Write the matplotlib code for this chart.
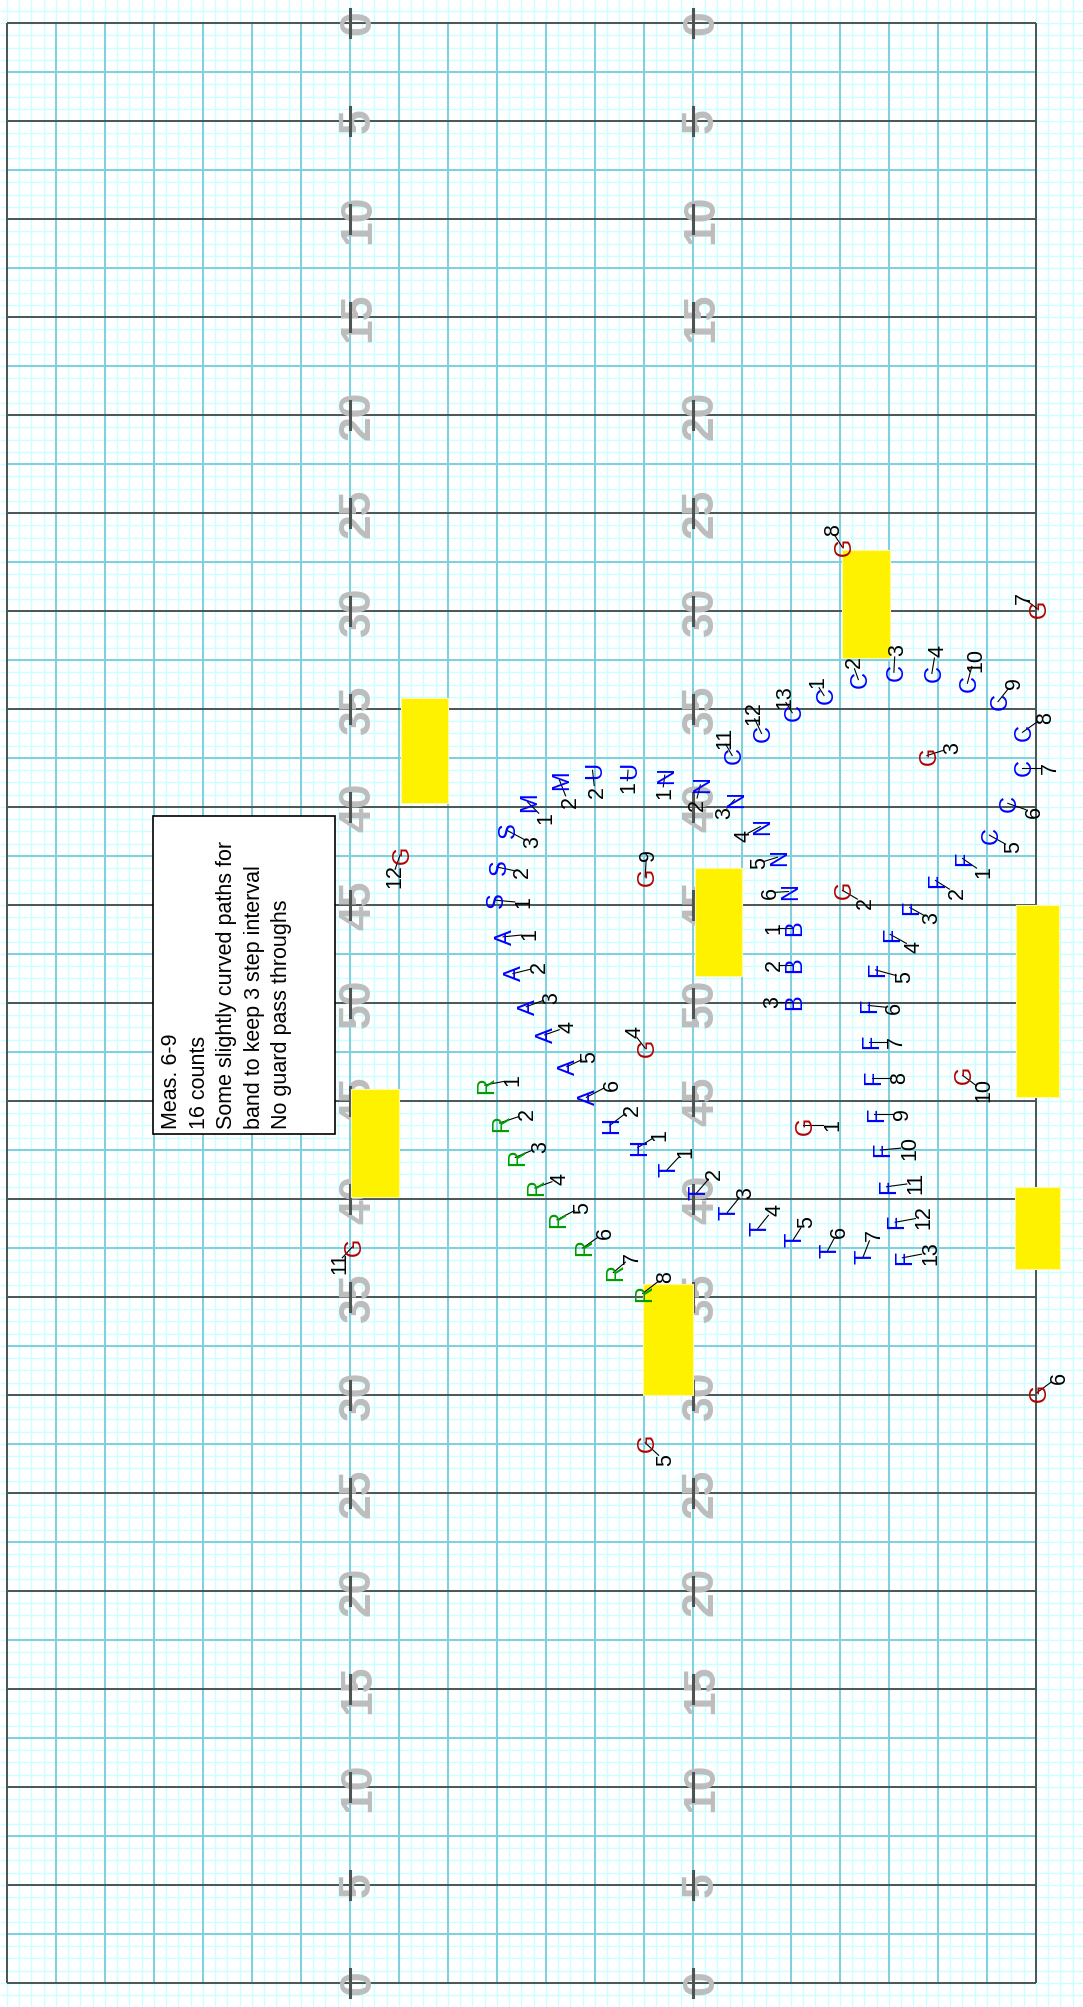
import numpy as np
import matplotlib.pyplot as plt
from matplotlib.patches import Rectangle

# field measured in 8-to-5 steps: 84 wide, 160 goal line to goal line
FIELD_W, FIELD_L = 84, 160
yard_labels = [0, 5, 10, 15, 20, 25, 30, 35, 40, 45, 50,
               45, 40, 35, 30, 25, 20, 15, 10, 5, 0]
hash_x = [28, 56]

# yellow props
prop_x = [68.2, 32.2, 28.1, 56.2, 51.9, 82.4, 82.3]
prop_y = [43.0, 55.1, 87.0, 69.0, 102.9, 72.0, 95.0]
prop_w = [3.9, 3.8, 3.9, 3.8, 4.1, 3.5, 3.7]
prop_h = [8.8, 8.6, 8.8, 8.8, 9.1, 15.7, 6.7]

# marchers: symbol, number, position, number tag position
symbol = list("SSSMMUUNNNNNNCCCCCCCCCCCCCBBBFFFFFFFFFFFFFAAAAAAHHTTTTTTTRRRRRRRRGGGGGGGGGGGG")
number = ([1, 2, 3] + [1, 2] + [1, 2] + list(range(1, 7)) + list(range(1, 14))
          + [1, 2, 3] + list(range(1, 14)) + list(range(1, 7)) + [1, 2]
          + list(range(1, 8)) + list(range(1, 9)) + list(range(1, 13)))
pos_x = [39.8, 40.0, 40.8, 42.5, 45.1, 50.7, 47.8,
         53.7, 56.6, 59.4, 61.5, 62.9, 63.8,
         66.7, 69.5, 72.4, 75.5, 80.2, 81.7, 82.9, 82.9, 80.9, 78.4, 59.2, 61.6, 64.1,
         64.1, 64.1, 64.1,
         78.0, 75.8, 73.7, 72.1, 70.9, 70.3, 70.4, 70.6, 70.8, 71.3, 71.8, 72.5, 73.1,
         40.5, 41.3, 42.4, 43.9, 45.7, 47.3,
         51.5, 49.2,
         53.9, 56.3, 58.8, 61.3, 64.2, 67.0, 69.9,
         39.0, 40.2, 41.5, 43.1, 44.9, 47.0, 49.5, 51.9,
         65.0, 68.2, 75.1, 52.1, 52.1, 84.1, 84.1, 68.2, 52.1, 78.0, 28.2, 32.1]
pos_y = [71.6, 68.9, 65.9, 63.6, 61.8, 61.0, 61.0,
         61.4, 62.2, 63.4, 65.6, 68.1, 70.9,
         54.9, 53.6, 53.0, 53.1, 66.3, 63.7, 60.8, 57.9, 55.4, 53.9, 59.8, 58.0, 56.3,
         73.9, 76.9, 79.9,
         68.2, 70.0, 72.2, 74.4, 77.3, 80.2, 83.2, 86.1, 89.1, 92.0, 95.0, 97.9, 100.8,
         74.6, 77.6, 80.3, 82.6, 85.2, 87.7,
         91.8, 90.0,
         93.6, 95.5, 97.1, 98.4, 99.3, 100.2, 100.7,
         86.7, 89.8, 92.6, 95.1, 97.7, 100.0, 102.0, 103.7,
         90.0, 70.8, 59.8, 83.7, 115.9, 111.8, 47.8, 42.8, 69.7, 85.9, 99.9, 67.9]
tag_x = [42.0, 41.9, 42.7, 43.8, 45.8, 50.6, 48.0,
         53.5, 56.2, 58.4, 60.0, 61.3, 62.1,
         66.0, 69.0, 72.5, 75.8, 82.0, 83.7, 85.0, 84.6, 82.1, 78.9, 58.4, 60.8, 63.3,
         62.4, 62.5, 62.3,
         79.6, 77.4, 75.3, 73.9, 73.1, 72.3, 72.4, 72.7, 72.9, 73.5, 74.0, 74.7, 75.2,
         42.5, 43.3, 44.3, 45.6, 47.4, 49.2,
         53.1, 50.9,
         55.2, 57.6, 60.1, 62.5, 65.1, 67.8, 70.6,
         41.1, 42.3, 43.4, 45.0, 46.8, 48.7, 50.9, 53.6,
         67.2, 69.9, 77.0, 51.1, 53.6, 85.7, 82.9, 67.3, 52.2, 79.6, 27.0, 31.5]
tag_y = [71.8, 69.3, 66.9, 64.9, 63.6, 62.4, 62.8,
         62.9, 63.8, 64.5, 66.4, 68.6, 71.0,
         53.8, 52.2, 51.2, 51.3, 67.3, 64.4, 60.8, 56.7, 53.9, 52.0, 58.4, 56.3, 55.0,
         73.9, 76.9, 79.9,
         69.3, 71.0, 73.1, 75.4, 77.9, 80.4, 83.2, 86.1, 89.1, 91.8, 94.7, 97.5, 100.4,
         74.4, 77.1, 79.6, 82.0, 84.4, 86.7,
         90.8, 88.7,
         92.2, 94.0, 95.5, 96.9, 97.9, 98.7, 98.9,
         86.3, 89.1, 91.8, 94.4, 96.7, 98.8, 100.8, 102.4,
         90.0, 71.8, 59.2, 82.4, 117.3, 110.6, 46.9, 41.4, 67.9, 87.1, 101.2, 69.6]

note = ("Meas. 6-9\n16 counts\nSome slightly curved paths for\n"
        "band to keep 3 step interval\nNo guard pass throughs")

colors = {"R": "#009e00", "G": "#b30000"}
FONT = "Liberation Sans"
DARK = "#4c5454"

fig = plt.figure(figsize=(10.83, 20.07), dpi=100)
ax = fig.add_axes([0, 0, 1, 1])
ax.axis("off")
x0, x1 = -0.571, 87.84
y0, y1 = -1.878, 161.96
ax.set_xlim(x0, x1)
ax.set_ylim(y1, y0)

# step grid over the whole sheet
ax.vlines(np.arange(0, 88), y0, y1, color="#ccffff", lw=1.0, zorder=0)
ax.hlines(np.arange(-1, 162), x0, x1, color="#ccffff", lw=1.0, zorder=0)
# 4-step grid inside the field
ax.vlines(np.arange(0, FIELD_W + 1, 4), 0, FIELD_L, color="#7fcfdf", lw=1.4, zorder=1)
ax.hlines(np.arange(4, FIELD_L, 8), 0, FIELD_W, color="#7fcfdf", lw=1.4, zorder=1)
# yard lines and sidelines
ax.hlines(np.arange(0, FIELD_L + 1, 8), 0, FIELD_W, color=DARK, lw=1.4, zorder=2)
ax.vlines([0, FIELD_W], 0, FIELD_L, color=DARK, lw=1.4, zorder=2)

for i, lab in enumerate(yard_labels):
    y = i * 8
    for hx in hash_x:
        ax.text(hx + 1.63, y, str(lab), rotation=90, rotation_mode="anchor",
                ha="center", va="baseline", fontsize=32, fontweight="bold",
                color="#bdbdbd", family=FONT, zorder=3)
        ax.plot([hx, hx], [y - 1.15, y + 1.15], color=DARK, lw=2.2, zorder=4)

for px, py, pw, ph in zip(prop_x, prop_y, prop_w, prop_h):
    ax.add_patch(Rectangle((px, py), pw, ph, facecolor="#fff200",
                           edgecolor="#fff9a0", lw=0.8, zorder=5))

# notes box
ax.add_patch(Rectangle((11.9, 64.7), 14.9, 26.0, facecolor="white",
                       edgecolor="black", lw=1.2, zorder=6))
ax.text(12.6, 90.3, note, rotation=90, rotation_mode="anchor", ha="left",
        va="top", fontsize=15.5, family=FONT, linespacing=1.4, zorder=7)

for s, n, lx, ly, tx, ty in zip(symbol, number, pos_x, pos_y, tag_x, tag_y):
    dx, dy = tx - lx, ty - ly
    d = np.hypot(dx, dy)
    k = max(d - 0.55, 0) / d
    ax.plot([lx, lx + k * dx], [ly, ly + k * dy], color="black", lw=0.8, zorder=7)
    ax.text(lx + 0.69, ly, s, rotation=90, rotation_mode="anchor", ha="center",
            va="baseline", fontsize=17, family=FONT,
            color=colors.get(s, "#0000ff"), zorder=8)
    ax.text(tx + 0.63, ty, str(n), rotation=90, rotation_mode="anchor",
            ha="center", va="baseline", fontsize=15.5, family=FONT,
            color="black", zorder=8)

fig.savefig("out.png", dpi=100)
